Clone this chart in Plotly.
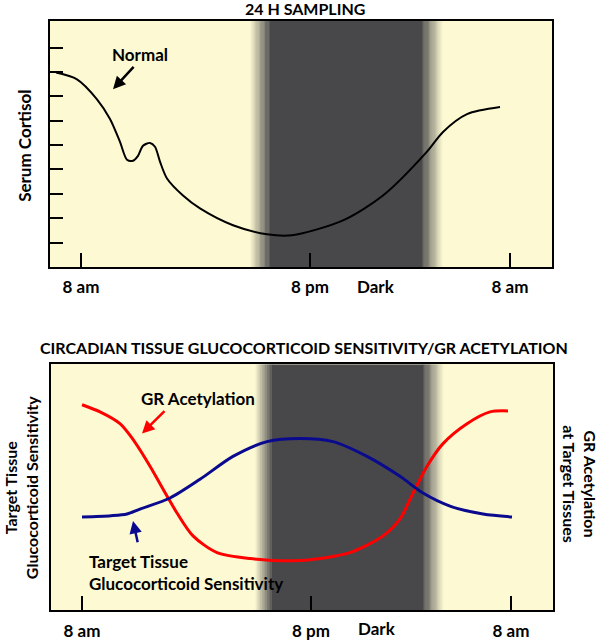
import plotly.graph_objects as go

# ---------------- data (schematic positions along the 24 h axis) ----------------
tick_pos = [31, 260, 460]
tick_text = ["8 am", "8 pm", "8 am"]
dark_label_pos = 326

# dark band: gradient start, full dark start, full dark end, gradient end
band_top = [200, 220, 372, 393]
band_bot = [204, 221, 372, 393]

# top panel: serum cortisol (normal)
cort_x = [6, 27, 47, 60, 70, 77, 83, 88, 93, 100, 105, 110, 117, 133, 150, 183,
          217, 242, 293, 333, 377, 393, 417, 450]
cort_y = [7.98, 7.70, 6.88, 6.07, 5.13, 4.40, 4.36, 4.56, 4.97, 5.09, 4.93, 4.32,
          3.63, 2.93, 2.40, 1.71, 1.34, 1.30, 1.91, 2.93, 4.73, 5.54, 6.27, 6.56]
cort_ticks = [1, 2, 3, 4, 5, 6, 7, 8, 9]

# bottom panel
gr_x = [31, 49, 69, 82, 99, 116, 126, 142, 166, 199, 249, 299, 332, 349, 362,
        376, 392, 416, 439, 457]
gr_y = [8.35, 8.06, 7.58, 6.94, 5.85, 4.64, 3.95, 3.02, 2.34, 2.10, 2.02,
        2.34, 3.02, 3.71, 4.76, 5.85, 6.77, 7.58, 8.06, 8.10]
sens_x = [31, 60, 76, 89, 119, 149, 182, 216, 249, 282, 316, 349, 372, 399, 432, 461]
sens_y = [3.79, 3.84, 3.91, 4.11, 4.56, 5.32, 6.25, 6.85, 6.98, 6.85, 6.25, 5.44, 4.76,
          4.23, 3.91, 3.79]

# ---------------- styling ----------------
W, H = 600, 641
YELLOW = (253, 249, 211)
DARK = (72, 71, 74)
FONT = "Lato"
RED = "#FF0000"
BLUE = "#0A0A8F"
LBL = 17
SIDE = 16
TTL = 16


def rgb(c):
    return "rgb(%d,%d,%d)" % c


def mix(a, b, t):
    return tuple(round(a[i] + (b[i] - a[i]) * t) for i in range(3))


def band_shapes(xref, yref, b, ytop):
    shapes = []
    n = 24
    x0, x1, x2, x3 = b
    for i in range(n):
        t = (i + 0.5) / n
        w = (x1 - x0) / n
        shapes.append(dict(type="rect", xref=xref, yref=yref, x0=x0 + i * w, x1=x0 + (i + 1) * w + 0.3,
                           y0=0, y1=ytop, fillcolor=rgb(mix(YELLOW, DARK, t)), line_width=0, layer="below"))
    shapes.append(dict(type="rect", xref=xref, yref=yref, x0=x1, x1=x2, y0=0, y1=ytop,
                       fillcolor=rgb(DARK), line_width=0, layer="below"))
    for i in range(n):
        t = (i + 0.5) / n
        w = (x3 - x2) / n
        shapes.append(dict(type="rect", xref=xref, yref=yref, x0=x2 + i * w - 0.3, x1=x2 + (i + 1) * w,
                           y0=0, y1=ytop, fillcolor=rgb(mix(DARK, YELLOW, t)), line_width=0, layer="below"))
    return shapes


fig = go.Figure()
fig.add_trace(go.Scatter(x=cort_x, y=cort_y, mode="lines", line=dict(color="black", width=2, shape="spline", smoothing=0.8),
                         xaxis="x", yaxis="y", showlegend=False, hoverinfo="skip"))
fig.add_trace(go.Scatter(x=gr_x, y=gr_y, mode="lines", line=dict(color=RED, width=3, shape="spline", smoothing=0.8),
                         xaxis="x2", yaxis="y2", showlegend=False, hoverinfo="skip"))
fig.add_trace(go.Scatter(x=sens_x, y=sens_y, mode="lines", line=dict(color=BLUE, width=3, shape="spline", smoothing=0.8),
                         xaxis="x2", yaxis="y2", showlegend=False, hoverinfo="skip"))

tickfont = dict(family=FONT, size=LBL, color="black", weight="bold")
common_x = dict(range=[0, 502], tickvals=tick_pos, ticktext=tick_text, ticks="inside", ticklen=14,
                tickwidth=2, tickcolor="black", showline=True, linewidth=2, linecolor="black",
                mirror=True, showgrid=False, zeroline=False, tickfont=tickfont, ticklabelstandoff=4)

top_y0, top_y1 = 21, 269
bot_y0, bot_y1 = 367, 615

fig.update_layout(
    width=W, height=H, autosize=False,
    margin=dict(l=0, r=0, t=0, b=0),
    paper_bgcolor="white", plot_bgcolor=rgb(YELLOW),
    xaxis=dict(domain=[50 / W, 552 / W], anchor="y", **common_x),
    yaxis=dict(domain=[(H - top_y1) / H, (H - top_y0) / H], anchor="x", range=[0, 10.1],
               tickvals=cort_ticks, showticklabels=False, ticks="inside", ticklen=13, tickwidth=2,
               tickcolor="black", showline=True, linewidth=2, linecolor="black", mirror=True,
               showgrid=False, zeroline=False),
    xaxis2=dict(domain=[51 / W, 553 / W], anchor="y2", **common_x),
    yaxis2=dict(domain=[(H - bot_y1) / H, (H - bot_y0) / H], anchor="x2", range=[0, 10],
                showticklabels=False, ticks="", showline=True, linewidth=2, linecolor="black",
                mirror=True, showgrid=False, zeroline=False),
    shapes=band_shapes("x", "y", band_top, 10.1) + band_shapes("x2", "y2", band_bot, 10),
)

bold = lambda s, c="black": dict(family=FONT, size=s, color=c, weight="bold")

ann = [
    dict(text="24 H SAMPLING", xref="paper", yref="paper", x=305 / W, y=(H - 9) / H,
         showarrow=False, font=bold(TTL), xanchor="center", yanchor="middle"),
    dict(text="CIRCADIAN TISSUE GLUCOCORTICOID SENSITIVITY/GR ACETYLATION", xref="paper", yref="paper",
         x=304 / W, y=(H - 350) / H, showarrow=False, font=bold(TTL), xanchor="center", yanchor="middle"),
    dict(text="Serum Cortisol", xref="paper", yref="paper", x=25 / W, y=(H - 147) / H, textangle=-90,
         showarrow=False, font=bold(LBL), xanchor="center", yanchor="middle"),
    dict(text="Target Tissue<br>Glucocorticoid Sensitivity", xref="paper", yref="paper", x=21 / W,
         y=(H - 492) / H, textangle=-90, showarrow=False, font=bold(SIDE), xanchor="center", yanchor="middle"),
    dict(text="GR Acetylation<br>at Target Tissues", xref="paper", yref="paper", x=580 / W,
         y=(H - 488) / H, textangle=90, showarrow=False, font=bold(SIDE), xanchor="center", yanchor="middle"),
    dict(text="Dark", xref="x", yref="paper", x=dark_label_pos, y=(H - 289) / H, showarrow=False,
         font=bold(LBL), xanchor="center", yanchor="middle"),
    dict(text="Dark", xref="x2", yref="paper", x=dark_label_pos, y=(H - 633) / H, showarrow=False,
         font=bold(LBL), xanchor="center", yanchor="middle"),
    # Normal label + arrow
    dict(text="Normal", xref="x", yref="y", x=90, y=8.72, showarrow=False, font=bold(LBL)),
    dict(text="", xref="x", yref="y", x=63, y=7.29, axref="x", ayref="y", ax=85, ay=8.27,
         showarrow=True, arrowhead=2, arrowsize=1, arrowwidth=2.5, arrowcolor="black"),
    # GR Acetylation label + arrow
    dict(text="GR Acetylation", xref="x2", yref="y2", x=147, y=8.59, showarrow=False, font=bold(LBL)),
    dict(text="", xref="x2", yref="y2", x=91, y=7.18, axref="x2", ayref="y2", ax=115, ay=8.15,
         showarrow=True, arrowhead=2, arrowsize=1, arrowwidth=2.5, arrowcolor=RED),
    # Target tissue label + arrow
    dict(text="Target Tissue<br>Glucocorticoid Sensitivity", xref="x2", yref="y2", x=36, y=1.53,
         showarrow=False, font=bold(LBL), xanchor="left", align="left", yanchor="middle"),
    dict(text="", xref="x2", yref="y2", x=82, y=3.63, axref="x2", ayref="y2", ax=87, ay=2.70,
         showarrow=True, arrowhead=2, arrowsize=1, arrowwidth=2.5, arrowcolor=BLUE),
]
fig.update_layout(annotations=ann)

fig.write_html("out.html", config={"displayModeBar": False},
               post_script="document.body.style.margin='0px';")
